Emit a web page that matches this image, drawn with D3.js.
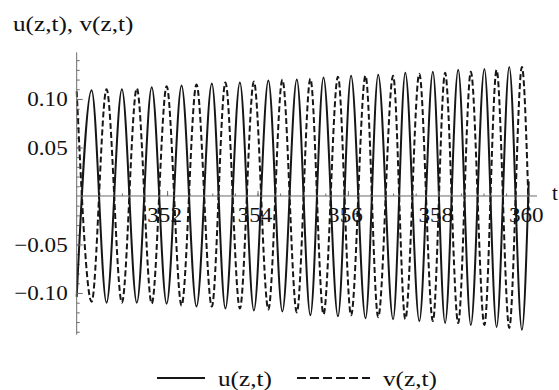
<!DOCTYPE html>
<html><head><meta charset="utf-8">
<script src="https://cdn.jsdelivr.net/npm/d3@7"></script>
<style>body{margin:0;background:#fff}svg{display:block}</style>
</head><body><svg id="c" width="559" height="390"></svg>
<script>
// times of the extrema (alternating u trough / u peak), plus the end point
const tValues = [350.00, 350.33, 350.66, 351.00, 351.33, 351.66, 351.99, 352.32, 352.65, 352.99,
  353.29, 353.61, 353.92, 354.24, 354.55, 354.87, 355.17, 355.46, 355.78, 356.07,
  356.39, 356.67, 357.00, 357.27, 357.58, 357.88, 358.15, 358.44, 358.72, 359.02,
  359.29, 359.57, 359.85, 360.00];
const uValues = [-0.104, 0.109, -0.110, 0.110, -0.110, 0.112, -0.111, 0.114, -0.114, 0.116,
  -0.116, 0.117, -0.118, 0.119, -0.119, 0.120, -0.123, 0.122, -0.124, 0.124,
  -0.126, 0.125, -0.127, 0.127, -0.129, 0.128, -0.131, 0.130, -0.133, 0.131,
  -0.135, 0.133, -0.138, 0.015];
const vValues = [0.108, -0.109, 0.110, -0.110, 0.111, -0.111, 0.113, -0.113, 0.115, -0.114,
  0.117, -0.116, 0.118, -0.117, 0.120, -0.120, 0.121, -0.122, 0.123, -0.123,
  0.124, -0.125, 0.124, -0.127, 0.126, -0.129, 0.127, -0.131, 0.128, -0.133,
  0.130, -0.136, 0.133, -0.015];
const xTicks = [352, 354, 356, 358, 360];
const yTicks = [-0.10, -0.05, 0.05, 0.10];
const seriesNames = ["u(z,t)", "v(z,t)"];
const yTitle = "u(z,t), v(z,t)";
const xTitle = "t";

const svg = d3.select("#c");
const font = "'Liberation Serif', 'Times New Roman', serif";
const x = d3.scaleLinear().domain([350, 360]).range([76.7, 528.7]);
const y = d3.scaleLinear().domain([-0.143, 0.148]).range([334.7, 52.4]);
const axisColor = "#6b6b6b";
const ink = "#161616";

// stretch a text horizontally (reference glyphs are wider than Liberation Serif)
function widen(sel, k) {
  sel.each(function () {
    const w = this.getComputedTextLength();
    this.setAttribute("textLength", w * k);
    this.setAttribute("lengthAdjust", "spacingAndGlyphs");
  });
}

const line = d3.line().x(d => x(d[0])).y(d => y(d[1])).curve(d3.curveMonotoneX);
const uData = tValues.map((t, i) => [t, uValues[i]]);
const vData = tValues.map((t, i) => [t, vValues[i]]);

// axes
const gx = svg.append("g").attr("transform", `translate(0,${y(0)})`);
gx.call(d3.axisBottom(x).tickValues(d3.range(350.5, 360.01, 0.5)).tickSizeInner(-2.5).tickSizeOuter(0).tickFormat(""));
gx.call(g => g.select(".domain").remove());
const gx2 = svg.append("g").attr("transform", `translate(0,${y(0)})`);
gx2.call(d3.axisBottom(x).tickValues(xTicks).tickSizeInner(-5).tickSizeOuter(0).tickPadding(11).tickFormat(d3.format("d")));
gx2.select(".domain").attr("d", `M${x(350)},0H537`);
gx2.selectAll(".tick text").attr("dx", -3);

const gy = svg.append("g").attr("transform", `translate(${x(350)},0)`);
gy.call(d3.axisLeft(y).tickValues(d3.range(-0.14, 0.1451, 0.01).filter(v => Math.abs(v) > 1e-9)).tickSizeInner(-3).tickSizeOuter(0).tickFormat(""));
gy.call(g => g.select(".domain").remove());
const gy2 = svg.append("g").attr("transform", `translate(${x(350)},0)`);
gy2.call(d3.axisLeft(y).tickValues(yTicks).tickSizeInner(-6).tickSizeOuter(0).tickPadding(9).tickFormat(d3.format(".2f")));
gy2.select(".domain").attr("d", `M0,${y(0.148)}V${y(-0.143)}`);

svg.selectAll(".domain, .tick line").attr("stroke", axisColor).attr("stroke-width", 1);
svg.selectAll(".tick text").attr("font-family", font).attr("font-size", 21).attr("fill", "#111");

svg.append("path").datum(uData).attr("d", line).attr("fill", "none")
  .attr("stroke", ink).attr("stroke-width", 2);
svg.append("path").datum(vData).attr("d", line).attr("fill", "none")
  .attr("stroke", ink).attr("stroke-width", 2).attr("stroke-dasharray", "6,3");

gx2.raise(); gy2.raise();
widen(gx2.selectAll(".tick text"), 1.1);
widen(gy2.selectAll(".tick text"), 1.1);

// titles
const tt = svg.append("text").attr("x", 13).attr("y", 31).attr("font-family", font).attr("font-size", 21)
  .attr("fill", "#111").text(yTitle);
widen(tt, 1.2);
svg.append("text").attr("x", 552).attr("y", 200).attr("font-family", font).attr("font-size", 21)
  .attr("fill", "#111").text(xTitle);

// legend
const lg = svg.append("g");
lg.append("line").attr("x1", 157).attr("x2", 205).attr("y1", 378).attr("y2", 378)
  .attr("stroke", ink).attr("stroke-width", 2);
const l1 = lg.append("text").attr("x", 218).attr("y", 386).attr("font-family", font).attr("font-size", 21)
  .attr("fill", "#111").text(seriesNames[0]);
lg.append("line").attr("x1", 297).attr("x2", 370).attr("y1", 378).attr("y2", 378)
  .attr("stroke", ink).attr("stroke-width", 2).attr("stroke-dasharray", "9,4");
const l2 = lg.append("text").attr("x", 383).attr("y", 386).attr("font-family", font).attr("font-size", 21)
  .attr("fill", "#111").text(seriesNames[1]);
widen(l1, 1.2); widen(l2, 1.2);
</script></body></html>
